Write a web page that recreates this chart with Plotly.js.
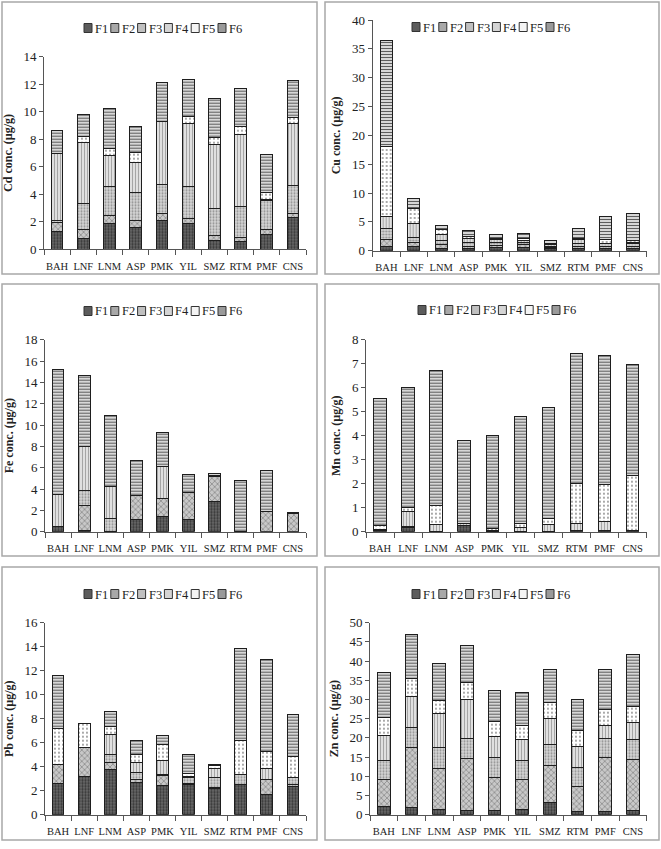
<!DOCTYPE html>
<html><head><meta charset="utf-8">
<script src="https://cdn.plot.ly/plotly-3.0.1.min.js"></script>
<style>html,body{margin:0;padding:0;background:#fff}#chart{width:661px;height:849px}</style>
</head><body><div id="chart"></div>
<script>
// ---------- DATA ----------
const sites = ['BAH','LNF','LNM','ASP','PMK','YIL','SMZ','RTM','PMF','CNS'];
const fractions = ['F1','F2','F3','F4','F5','F6'];

// each row = one fraction (F1..F6), values per site (µg/g)
const cdValues = [
  [1.28,0.80,1.89,1.57,2.13,1.84,0.61,0.56,1.04,2.33],
  [0.66,0.65,0.60,0.54,0.44,0.41,0.36,0.31,0.41,0.29],
  [0.14,1.89,2.06,2.01,2.15,2.30,2.01,2.23,2.13,2.01],
  [4.85,4.43,2.28,2.18,4.58,4.60,4.62,5.21,0.04,4.48],
  [0.05,0.46,0.48,0.72,0.02,0.49,0.51,0.60,0.50,0.48],
  [1.69,1.58,2.89,1.89,2.81,2.71,2.86,2.76,2.76,2.66]
];
const cuValues = [
  [0.81,0.70,0.46,0.30,0.50,0.50,0.30,0.40,0.40,0.40],
  [1.16,0.75,0.70,0.40,0.40,0.50,0.20,0.40,0.40,0.30],
  [1.90,0.90,0.57,0.70,0.60,0.40,0.30,0.50,0.40,0.50],
  [2.03,2.30,1.04,0.80,0.40,0.40,0.20,0.60,0.10,0.30],
  [12.13,2.75,0.99,0.30,0.30,0.30,0.20,0.20,0.60,0.30],
  [18.47,1.60,0.54,0.95,0.65,0.85,0.52,1.70,4.00,4.70]
];
const feValues = [
  [0.53,0.15,0.05,1.10,1.40,1.10,2.86,0.00,0.00,0.00],
  [0.00,2.35,0.00,2.28,1.75,2.56,2.27,0.05,1.88,1.72],
  [0.00,1.36,1.20,0.00,0.00,0.00,0.00,0.00,0.00,0.00],
  [3.00,4.11,3.00,0.00,2.98,0.00,0.00,0.00,0.00,0.00],
  [0.00,0.00,0.00,0.00,0.00,0.00,0.15,0.00,0.00,0.00],
  [11.72,6.66,6.63,3.34,3.21,1.72,0.19,4.75,3.90,0.10]
];
const mnValues = [
  [0.00,0.18,0.02,0.24,0.02,0.02,0.02,0.07,0.05,0.03],
  [0.00,0.00,0.00,0.00,0.00,0.00,0.00,0.00,0.00,0.00],
  [0.03,0.02,0.00,0.00,0.00,0.00,0.00,0.00,0.00,0.00],
  [0.05,0.63,0.28,0.10,0.05,0.16,0.28,0.28,0.37,0.00],
  [0.17,0.18,0.78,0.02,0.07,0.17,0.25,1.65,1.54,2.30],
  [5.29,5.00,5.64,3.46,3.86,4.43,4.64,5.44,5.37,4.64]
];
const pbValues = [
  [2.61,3.17,3.75,2.67,2.42,2.53,2.22,2.53,1.69,2.39],
  [1.56,2.44,0.61,0.27,0.86,0.05,0.02,0.02,1.23,0.12],
  [0.00,0.00,0.64,0.56,0.05,0.48,0.82,0.78,0.00,0.60],
  [0.00,0.00,1.67,0.89,1.20,0.14,0.83,0.00,0.89,0.00],
  [3.02,1.95,0.64,0.64,1.28,0.20,0.22,2.84,1.47,1.70],
  [4.45,0.05,1.27,1.14,0.80,1.60,0.06,7.66,7.64,3.52]
];
const znValues = [
  [2.08,1.90,1.30,1.04,1.13,1.30,3.30,0.87,0.87,1.13],
  [7.12,15.55,10.85,13.72,8.68,7.99,9.55,6.60,14.13,13.28],
  [5.04,5.29,5.45,5.04,5.12,4.86,5.47,4.86,4.97,5.12],
  [6.51,7.99,8.70,10.32,5.38,5.38,6.68,5.47,3.21,4.52],
  [4.65,4.87,3.56,4.43,3.91,3.82,4.34,4.16,4.16,4.15],
  [11.58,11.36,9.46,9.63,8.25,8.59,8.42,8.16,10.42,13.64]
];
const yTitles = ['Cd conc. (µg/g)','Cu conc. (µg/g)','Fe conc. (µg/g)','Mn conc. (µg/g)','Pb conc. (µg/g)','Zn conc. (µg/g)'];
const yMax = [14,40,18,8,16,50];
const yStep = [2,5,2,1,2,5];

// ---------- STYLE / LAYOUT ----------
const W = 661, H = 849;
const FONT = 'Liberation Serif, Times New Roman, serif';
const datasets = [cdValues,cuValues,feValues,mnValues,pbValues,znValues];
// plot areas in pixels: [left, right, top, bottom]
const areas = [
  [44,306,56.7,249.3],
  [372.7,646.7,20,250.7],
  [45,306,339.7,531.7],
  [366,646.7,339.7,531.7],
  [45,306,622.7,814.7],
  [370,646.7,622.7,814.7]
];
// legend: left edge of first swatch, vertical centre (px)
const legendPos = [[84,28],[412,27],[84,311],[418,310],[84,594],[412,594]];
const legendStep = 26.8;
// panel frames (px)
const frames = [[2,317,2,274],[325,659,2,274],[2,317,284,556],[325,659,284,556],[2,317,567,840],[325,659,567,840]];

const fStyles = [
  {bg:'#6a6a6a', fg:'#383838', shape:'.', size:3, sol:0.45, sw:'#5c5c5c'},
  {bg:'#c8c8c8', fg:'#6e6e6e', shape:'x', size:4, sol:0.25, sw:'#a8a8a8'},
  {bg:'#d6d6d6', fg:'#8e8e8e', shape:'.', size:3, sol:0.35, sw:'#c0c0c0'},
  {bg:'#e0e0e0', fg:'#9e9e9e', shape:'|', size:3, sol:0.3, sw:'#d4d4d4'},
  {bg:'#ffffff', fg:'#8a8a8a', shape:'.', size:4, sol:0.18, sw:'#f4f4f4'},
  {bg:'#e4e4e4', fg:'#5e5e5e', shape:'-', size:3, sol:0.4, sw:'#9a9a9a'}
];

const traces = [];
const layout = {
  width: W, height: H,
  margin: {l:0,r:0,t:0,b:0},
  paper_bgcolor:'#fff', plot_bgcolor:'#fff',
  barmode:'stack', bargap:0.55,
  font:{family:FONT, size:12, color:'#222'},
  shapes: [], annotations: [],
  showlegend: false
};

datasets.forEach((vals, p) => {
  const ax = p === 0 ? '' : String(p+1);
  vals.forEach((row, f) => {
    const s = fStyles[f];
    traces.push({
      type:'bar', x: sites, y: row, name: fractions[f],
      xaxis:'x'+ax, yaxis:'y'+ax, showlegend:false,
      width: 0.45,
      marker:{color:s.bg, line:{color:'#1e1e1e', width:1},
        pattern:{shape:s.shape, fgcolor:s.fg, bgcolor:s.bg, size:s.size, solidity:s.sol}},
      hoverinfo:'x+y+name'
    });
  });
  const a = areas[p];
  layout['xaxis'+ax] = {
    domain:[a[0]/W, a[1]/W], anchor:'y'+ax, type:'category', tickangle:0,
    showline:true, linecolor:'#555', linewidth:1, ticks:'outside', tickson:'boundaries',
    ticklen:5, tickcolor:'#555', showgrid:false, zeroline:false,
    tickfont:{family:FONT, size:10.5, color:'#222'}, ticklabelstandoff:7, fixedrange:true
  };
  layout['yaxis'+ax] = {
    domain:[1-a[3]/H, 1-a[2]/H], anchor:'x'+ax, range:[0,yMax[p]], dtick:yStep[p],
    showline:true, linecolor:'#555', linewidth:1, ticks:'outside', ticklen:4, tickcolor:'#555',
    showgrid:false, zeroline:false, tickfont:{family:FONT, size:13, color:'#222'},
    title:{text:'<b>'+yTitles[p]+'</b>', font:{family:FONT, size:12, color:'#222'}, standoff:8},
    fixedrange:true
  };
  // legend (swatch + label) per panel
  const lp = legendPos[p];
  fractions.forEach((name, f) => {
    const x0 = lp[0] + f*legendStep;
    layout.shapes.push({type:'rect', xref:'paper', yref:'paper',
      x0:x0/W, x1:(x0+8)/W, y0:1-(lp[1]+4.5)/H, y1:1-(lp[1]-4.5)/H,
      line:{color:'#333', width:1}, fillcolor:fStyles[f].sw});
    layout.annotations.push({xref:'paper', yref:'paper', x:(x0+9)/W, y:1-(lp[1]+0.5)/H,
      xanchor:'left', yanchor:'middle', showarrow:false, text:name,
      font:{family:FONT, size:12.5, color:'#222'}});
  });
  const fr = frames[p];
  layout.shapes.push({type:'rect', xref:'paper', yref:'paper',
    x0:fr[0]/W, x1:fr[1]/W, y0:1-fr[3]/H, y1:1-fr[2]/H,
    line:{color:'#a8a8a8', width:1.5}, fillcolor:'rgba(0,0,0,0)', layer:'below'});
});

Plotly.newPlot('chart', traces, layout, {displayModeBar:false, staticPlot:true});
</script>
</body></html>
